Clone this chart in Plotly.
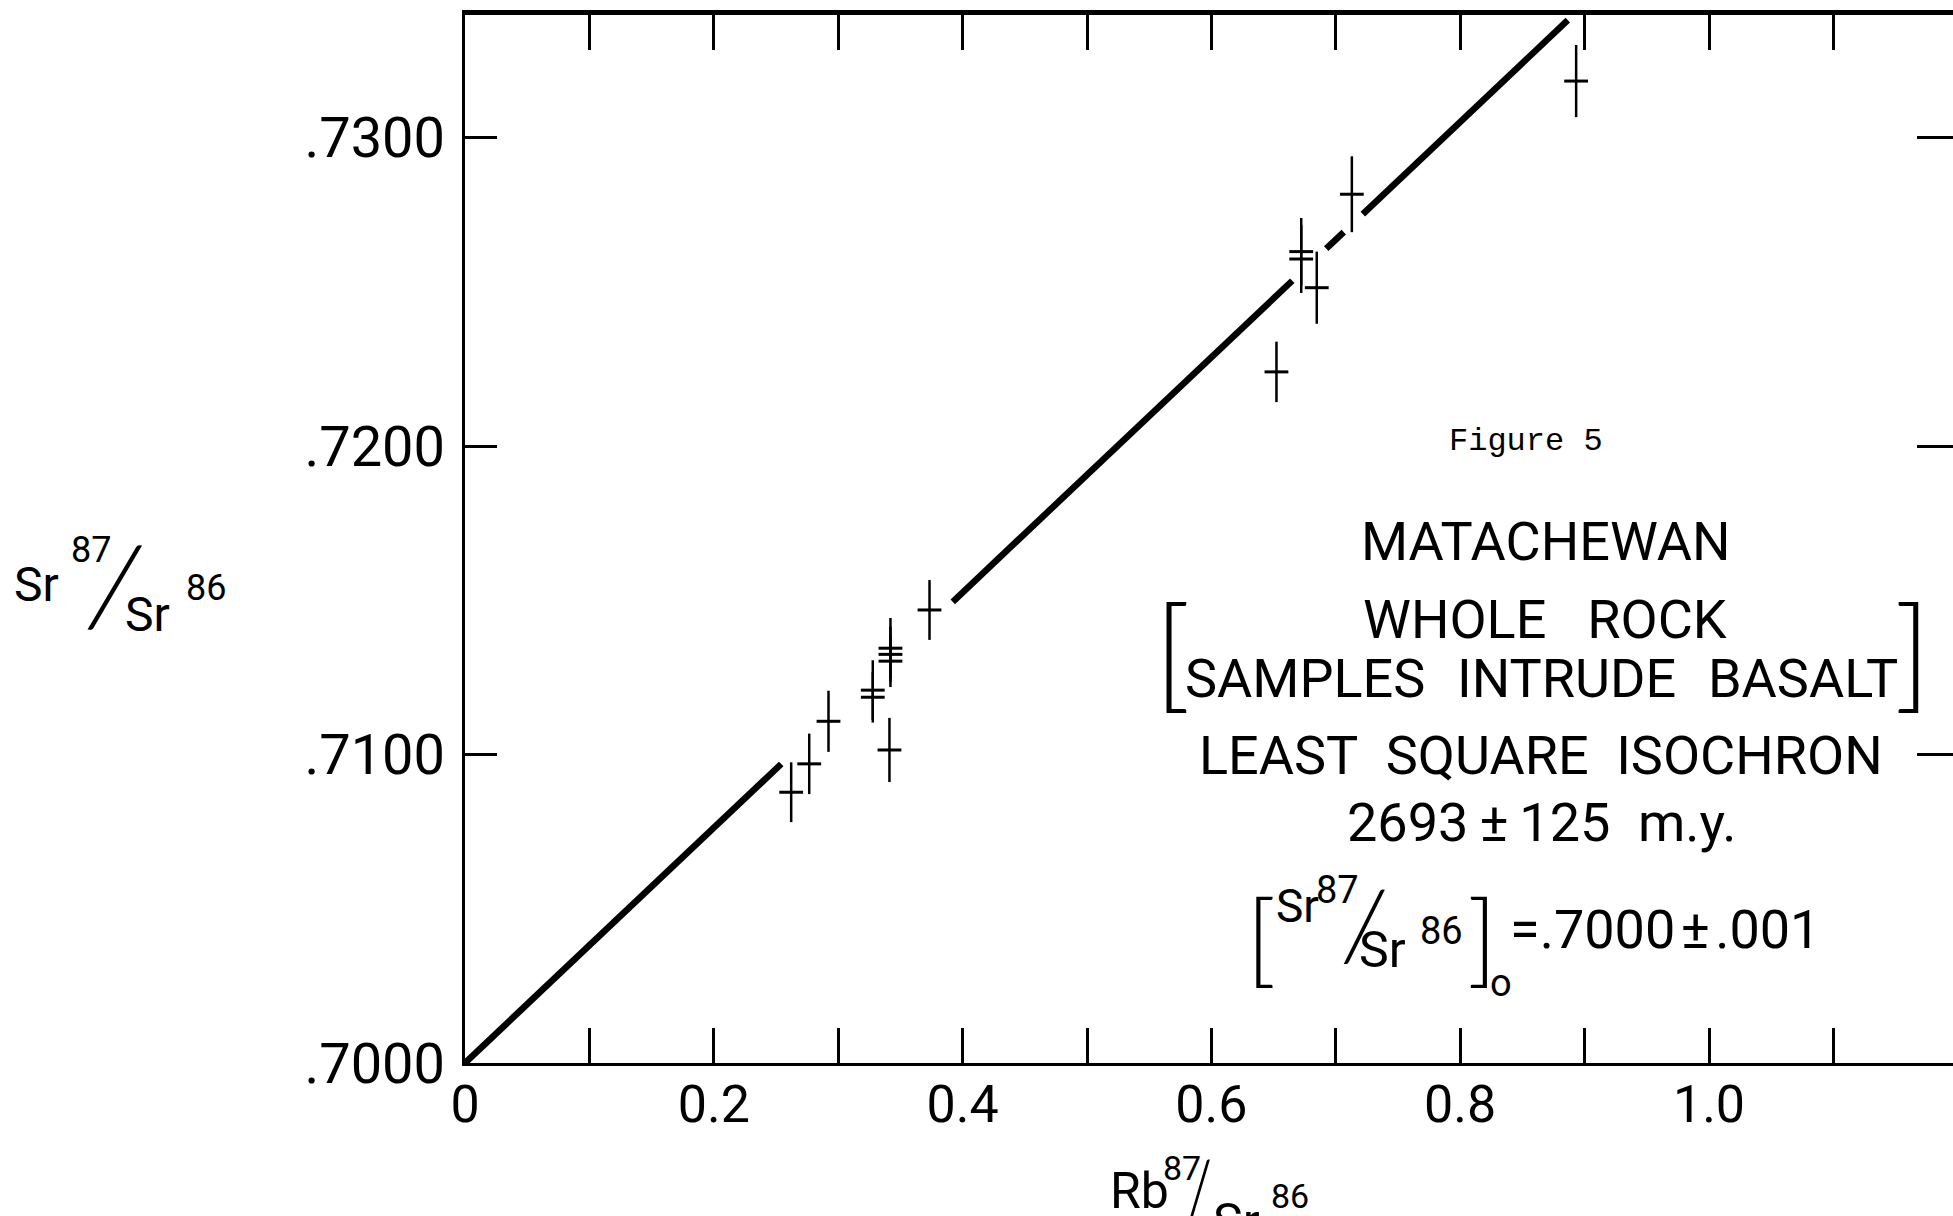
import math
import plotly.graph_objects as go

# Whole-rock analyses: Rb87/Sr86, Sr87/Sr86 and one-sigma error on Sr87/Sr86
rb_sr = [0.2622, 0.2767, 0.2922, 0.3278, 0.3278, 0.3420, 0.3420, 0.3420,
         0.3412, 0.3734, 0.6523, 0.6722, 0.6722, 0.6847, 0.7129, 0.8932]
sr_sr = [0.70878, 0.70970, 0.71108, 0.71209, 0.71186, 0.71345, 0.71325, 0.71303,
         0.71015, 0.71469, 0.72241, 0.72631, 0.72607, 0.72514, 0.72817, 0.73184]
sr_err = [0.00097, 0.00098, 0.00099, 0.00097, 0.00082, 0.00098, 0.00090, 0.00084,
          0.00104, 0.00097, 0.00098, 0.00109, 0.00110, 0.00117, 0.00123, 0.00117]

# Isochron: initial ratio and age (m.y.), decay constant of Rb87 (per year)
initial_ratio = 0.7000
age_my = 2693
decay_const = 1.39e-11
# the isochron is drawn in pieces, leaving gaps around the analyses
isochron_pieces = [(0.0, 0.2542), (0.3921, 0.6650), (0.6923, 0.7064), (0.7217, 0.8865)]

x_ticks = [0.0, 0.1, 0.2, 0.3, 0.4, 0.5, 0.6, 0.7, 0.8, 0.9, 1.0, 1.1]
x_tick_text = ["0", "", "0.2", "", "0.4", "", "0.6", "", "0.8", "", "1.0", ""]
y_ticks = [0.7000, 0.7100, 0.7200, 0.7300]
y_tick_text = [".7000", ".7100", ".7200", ".7300"]

W, H = 1953, 1216
ML, MR, MT, MB = 465, 0, 15, 153
X_RANGE = [0.0, 1.19614]
Y_RANGE = [0.7000, 0.733982]
FONT = "Roboto"
THIN = "Lato"

slope = math.exp(decay_const * age_my * 1e6) - 1.0
line_x, line_y = [], []
for a, b in isochron_pieces:
    line_x += [a, b, None]
    line_y += [initial_ratio + slope * a, initial_ratio + slope * b, None]

fig = go.Figure()
fig.add_trace(go.Scatter(x=line_x, y=line_y, mode="lines",
                         line=dict(color="black", width=6.5), hoverinfo="skip"))
fig.add_trace(go.Scatter(
    x=rb_sr, y=sr_sr, mode="markers",
    marker=dict(symbol="line-ew", size=17, color="black",
                line=dict(width=3, color="black")),
    error_y=dict(type="data", array=sr_err, visible=True,
                 thickness=2.5, width=0, color="black"),
))
# companion axes carrying the top and right tick marks
fig.add_trace(go.Scatter(x=[], y=[], xaxis="x2", yaxis="y2", mode="markers"))

pw, ph = W - ML - MR, H - MT - MB


def px(x):
    return (x - ML) / pw


def py(y):
    return (H - MB - y) / ph


def note(text, x, y, size, xanchor="center", family=FONT, weight=None, angle=0):
    f = dict(family=family, size=size, color="black")
    if weight:
        f["weight"] = weight
    return dict(text=text, x=px(x), y=py(y), xref="paper", yref="paper",
                xanchor=xanchor, yanchor="middle", showarrow=False,
                font=f, textangle=angle)


HS = "\u200a"       # hair gap around the plus-minus sign
TH = "\u2009"       # thin gap

annotations = [
    # y axis title
    note("Sr", 37, 584, 48),
    note("87", 91, 550, 36),
    note("/", 115, 582, 118, family=THIN, weight=300, angle=8),
    note("Sr", 147, 614, 48),
    note("86", 206, 588, 36),
    # x axis title
    note("Rb", 1139, 1191, 50),
    note("87", 1182, 1168, 34),
    note("/", 1199, 1185, 72, family=THIN, weight=300, angle=-6),
    note("Sr", 1236, 1222, 50),
    note("86", 1290, 1196, 34),
    # caption block
    note("Figure 5", 1526, 441, 32, family="Liberation Mono"),
    note("MATACHEWAN", 1545, 541, 54),
    note("WHOLE \u2002ROCK", 1545, 619, 54),
    note("SAMPLES \u2004INTRUDE \u2004BASALT", 1541, 678, 54),
    note("[", 1172, 649, 124, family=THIN, weight=300),
    note("]", 1912, 649, 124, family=THIN, weight=300),
    note("LEAST\u2002SQUARE\u2002ISOCHRON", 1541, 756, 54),
    note("2693" + TH + "\u00b1" + TH + "125\u2002m.y.", 1541, 822, 54),
    note("[", 1261, 934, 102, family=THIN, weight=300),
    note("Sr", 1297, 906, 46),
    note("87", 1337, 890, 38),
    note("/", 1364, 922, 100, family=THIN, weight=300, angle=4),
    note("Sr", 1382, 950, 50),
    note("86", 1441, 931, 38),
    note("]", 1482, 934, 102, family=THIN, weight=300),
    note("o", 1501, 983, 38),
    note("=.7000" + HS + "\u00b1" + HS + ".001", 1508, 929, 54, xanchor="left"),
]

fig.update_layout(
    width=W, height=H,
    margin=dict(l=ML, r=MR, t=MT, b=MB),
    paper_bgcolor="white", plot_bgcolor="white",
    showlegend=False,
    font=dict(family=FONT, color="black"),
    xaxis=dict(range=X_RANGE, tickmode="array", tickvals=x_ticks, ticktext=x_tick_text,
               ticks="inside", ticklen=35, tickwidth=2.5, tickcolor="black",
               showline=True, linewidth=3, linecolor="black",
               showgrid=False, zeroline=False, ticklabelstandoff=-6,
               tickfont=dict(family=FONT, size=52, color="black")),
    yaxis=dict(range=Y_RANGE, tickmode="array", tickvals=y_ticks, ticktext=y_tick_text,
               ticks="inside", ticklen=32, tickwidth=2.5, tickcolor="black",
               showline=True, linewidth=2.5, linecolor="black",
               showgrid=False, zeroline=False, ticklabelstandoff=6,
               tickfont=dict(family=FONT, size=56, color="black")),
    xaxis2=dict(range=X_RANGE, overlaying="x", side="top", anchor="y2",
                tickmode="array", tickvals=x_ticks[1:], showticklabels=False,
                ticks="inside", ticklen=35, tickwidth=2.5, tickcolor="black",
                showline=True, linewidth=5, linecolor="black",
                showgrid=False, zeroline=False),
    yaxis2=dict(range=Y_RANGE, overlaying="y", side="right", anchor="x2",
                tickmode="array", tickvals=y_ticks[1:], showticklabels=False,
                ticks="inside", ticklen=36, tickwidth=2.5, tickcolor="black",
                showline=False, showgrid=False, zeroline=False),
    annotations=annotations,
)

fig.write_html("out.html")
